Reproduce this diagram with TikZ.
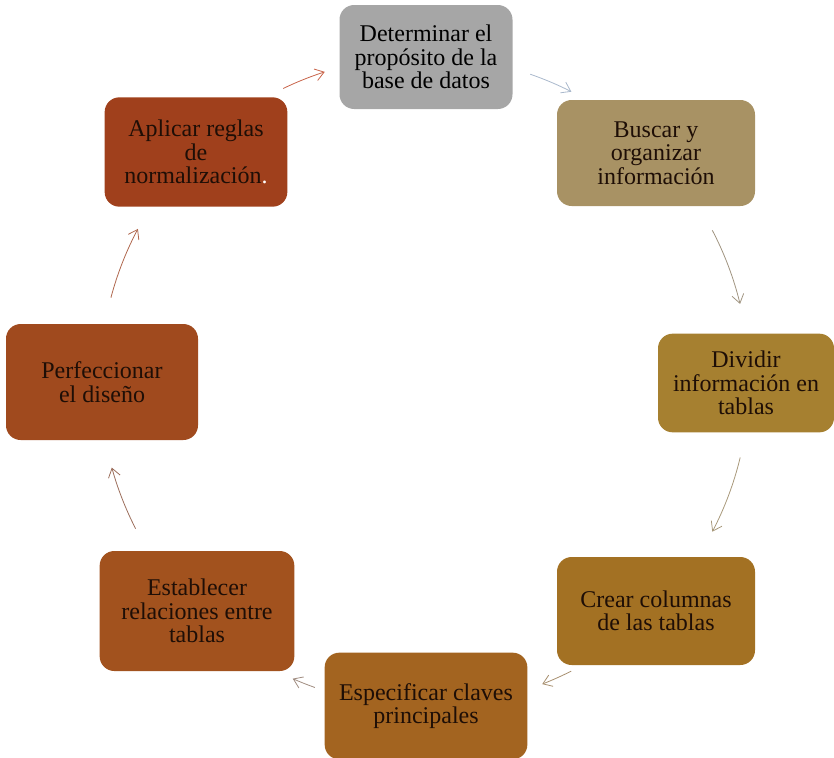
\documentclass[tikz,border=0pt]{standalone}
\usepackage{fontspec}
\setmainfont{Liberation Serif}
\usetikzlibrary{arrows.meta}

\definecolor{cGray}{RGB}{166,166,166}
\definecolor{cKhaki}{RGB}{168,146,100}
\definecolor{cOchre}{RGB}{166,128,48}
\definecolor{cBronze}{RGB}{163,113,35}
\definecolor{cCopper}{RGB}{163,100,32}
\definecolor{cRust}{RGB}{162,82,30}
\definecolor{cBrick}{RGB}{160,74,30}
\definecolor{cRed}{RGB}{160,64,28}
\definecolor{txt}{RGB}{30,14,6}

\definecolor{aA}{RGB}{200,100,74}
\definecolor{aB}{RGB}{169,184,204}
\definecolor{aC}{RGB}{160,148,128}
\definecolor{aD}{RGB}{168,152,122}
\definecolor{aE}{RGB}{168,144,112}
\definecolor{aF}{RGB}{160,140,128}
\definecolor{aG}{RGB}{156,110,92}
\definecolor{aH}{RGB}{176,104,78}

\tikzset{
  stepbox/.style={rounded corners=11pt, align=center, inner sep=0pt,
    text=txt, font=\fontsize{18}{17.5}\selectfont},
  cyc/.style={line width=0.6pt, -{Straight Barb[length=6.5pt,width=9pt]}}
}

\begin{document}
\begin{tikzpicture}[x=0.75pt,y=0.75pt]
\useasboundingbox (0,0) rectangle (834,-757);

% steps of the design cycle
\node[stepbox, fill=cGray, text=black, minimum width=129.75pt, minimum height=78pt]
  (n1) at (426,-57) {Determinar el\\propósito de la\\base de datos};
\node[stepbox, fill=cKhaki, minimum width=148.5pt, minimum height=79.5pt]
  (n2) at (656,-153) {Buscar y\\organizar\\información};
\node[stepbox, fill=cOchre, minimum width=132pt, minimum height=74pt]
  (n3) at (746,-383) {Dividir\\información en\\tablas};
\node[stepbox, fill=cBronze, minimum width=148.5pt, minimum height=81pt]
  (n4) at (656,-611) {Crear columnas\\de las tablas};
\node[stepbox, fill=cCopper, minimum width=152pt, minimum height=80pt]
  (n5) at (426,-706) {Especificar claves\\principales};
\node[stepbox, fill=cRust, minimum width=146pt, minimum height=90pt]
  (n6) at (197,-611) {Establecer\\relaciones entre\\tablas};
\node[stepbox, fill=cBrick, minimum width=144pt, minimum height=87pt]
  (n7) at (102,-382) {Perfeccionar\\el diseño};
\node[stepbox, fill=cRed, minimum width=137pt, minimum height=82pt]
  (n8) at (196,-152) {Aplicar reglas\\de\\normalización\textcolor{white}{.}};

% centre of the cycle; the arrows are arcs around it
\coordinate (C) at (424,-381);
\draw[cyc, aA] ([shift={(115.7:243.5pt)}]C) arc[start angle=115.7, end angle=107.8, radius=243.5pt];
\draw[cyc, aB] ([shift={(70.9:243.5pt)}]C) arc[start angle=70.9, end angle=63.0, radius=243.5pt];
\draw[cyc, aC] ([shift={(27.6:244pt)}]C) arc[start angle=27.6, end angle=13.7, radius=244pt];
\draw[cyc, aD] ([shift={(-13.6:244pt)}]C) arc[start angle=-13.6, end angle=-27.6, radius=244pt];
\draw[cyc, aE] ([shift={(-63.1:244pt)}]C) arc[start angle=-63.1, end angle=-68.7, radius=244pt];
\draw[cyc, aF] ([shift={(-109.6:244pt)}]C) arc[start angle=-109.6, end angle=-113.8, radius=244pt];
\draw[cyc, aG] ([shift={(207.1:243pt)}]C) arc[start angle=207.1, end angle=195.5, radius=243pt];
\draw[cyc, aH] ([shift={(165.1:243pt)}]C) arc[start angle=165.1, end angle=152, radius=243pt];
\end{tikzpicture}
\end{document}
